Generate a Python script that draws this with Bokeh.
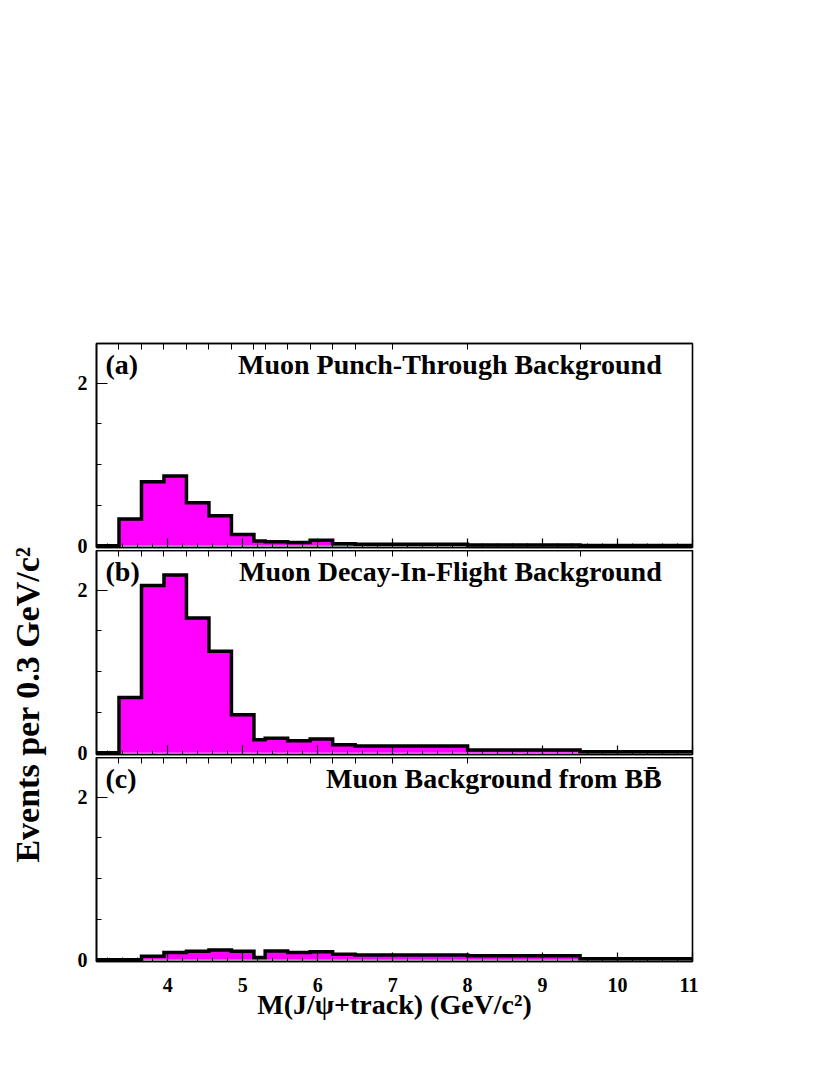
import numpy as np
from bokeh.plotting import figure
from bokeh.layouts import column, row
from bokeh.models import (Range1d, FixedTicker, SingleIntervalTicker, LinearAxis,
                          Label, CustomJSTickFormatter)
from bokeh.core.properties import value
from bokeh.embed import file_html
from bokeh.resources import INLINE

# ---------------- data ----------------
bin_edges = [3.05, 3.35, 3.65, 3.95, 4.25, 4.55, 4.85, 5.15, 5.30, 5.60,
             5.90, 6.20, 6.50, 7.00, 8.00, 9.50, 11.00]
punch_through = [0.0, 0.33, 0.79, 0.86, 0.53, 0.37, 0.14, 0.06, 0.05, 0.04,
                 0.07, 0.025, 0.02, 0.02, 0.01, 0.005]
decay_in_flight = [0.0, 0.68, 2.06, 2.19, 1.66, 1.25, 0.47, 0.16, 0.18, 0.15,
                   0.17, 0.10, 0.085, 0.085, 0.035, 0.015]
from_bbbar = [0.0, 0.0, 0.045, 0.09, 0.105, 0.12, 0.105, 0.03, 0.11, 0.09,
              0.10, 0.07, 0.06, 0.06, 0.05, 0.015]
panel_tags = ["(a)", "(b)", "(c)"]
panel_titles = ["Muon Punch-Through Background",
                "Muon Decay-In-Flight Background",
                "Muon Background from B\u0042\u0304"]
y_major = [0, 2]
y_minor = [0.5, 1.0, 1.5]
x_title = "M(J/\u03c8+track) (GeV/c\u00b2)"
y_title = "Events per 0.3 GeV/c\u00b2"

FONT = "Liberation Serif"
MAGENTA = "#ff00ff"
FRAME_W = 596
FRAME_H = 204
LEFT = 48
OVERLAP = 8


def make_panel(vals, tag, title, first=False, last=False):
    kw = {}
    if not first:
        kw["margin"] = (-OVERLAP, 0, 0, 0)
    p = figure(output_backend="svg", toolbar_location=None,
               frame_width=FRAME_W, frame_height=FRAME_H,
               x_range=Range1d(3.05, 11.0), y_range=Range1d(-0.02, 2.49),
               x_axis_location=None, y_axis_location=None,
               min_border_left=LEFT, min_border_right=6,
               min_border_top=343 if first else 0,
               min_border_bottom=62 if last else 11, **kw)
    p.background_fill_color = "white"
    p.border_fill_color = "white"
    p.border_fill_alpha = 1.0 if first else 0.0
    p.outline_line_color = "black"
    p.outline_line_width = 1.6
    p.grid.visible = False

    e = np.array(bin_edges)
    v = np.array(vals)
    xs = np.repeat(e, 2)[1:-1]
    ys = np.repeat(v, 2)
    px = np.concatenate([xs, [e[-1], e[0]]])
    py = np.concatenate([ys, [0.0, 0.0]])
    p.patch(px, py, fill_color=MAGENTA, line_color=None)
    p.line(xs, ys, line_color="black", line_width=3.5, line_join="miter")

    # left axis
    ya = LinearAxis(ticker=FixedTicker(ticks=y_major, minor_ticks=y_minor))
    ya.major_tick_in = 11
    ya.major_tick_out = 0
    ya.minor_tick_in = 5
    ya.minor_tick_out = 0
    ya.axis_line_color = "black"
    ya.axis_line_width = 1.6
    ya.major_tick_line_width = 1.2
    ya.minor_tick_line_width = 1.0
    ya.major_label_text_font = FONT
    ya.major_label_text_font_style = "bold"
    ya.major_label_text_font_size = "20px"
    ya.major_label_text_color = "black"
    ya.major_label_standoff = 9
    p.add_layout(ya, "left")

    # bottom axis
    xa = LinearAxis(ticker=SingleIntervalTicker(interval=1, num_minor_ticks=5))
    xa.major_tick_in = 9
    xa.major_tick_out = 0
    xa.minor_tick_in = 4
    xa.minor_tick_out = 0
    xa.axis_line_color = "black"
    xa.axis_line_width = 1.6
    xa.major_tick_line_width = 1.2
    xa.minor_tick_line_width = 1.0
    xa.major_label_text_font = FONT
    xa.major_label_text_font_style = "bold"
    xa.major_label_text_color = "black"
    if last:
        xa.major_label_text_font_size = "20px"
        xa.major_label_standoff = 16
        xa.axis_label = x_title
        xa.axis_label_text_font = FONT
        xa.axis_label_text_font_style = "bold"
        xa.axis_label_text_font_size = "28px"
        xa.axis_label_text_color = "black"
        xa.axis_label_standoff = -6
    else:
        xa.formatter = CustomJSTickFormatter(code="return ''")
        xa.major_label_standoff = 0
    p.add_layout(xa, "below")

    # top axis (ticks at bin edges)
    ta = LinearAxis(ticker=FixedTicker(ticks=bin_edges[1:-1], minor_ticks=[]))
    ta.major_tick_in = 6
    ta.major_tick_out = 0
    ta.minor_tick_in = 0
    ta.minor_tick_out = 0
    ta.axis_line_color = "black"
    ta.axis_line_width = 1.6
    ta.major_tick_line_width = 1.0
    ta.formatter = CustomJSTickFormatter(code="return ''")
    ta.major_label_standoff = 0
    p.add_layout(ta, "above")

    p.add_layout(Label(x=3.17, y=2.23, text=tag, text_font=FONT,
                       text_font_style="bold", text_font_size="28px",
                       text_color="black",
                       text_align="left", text_baseline="alphabetic"))
    p.add_layout(Label(x=10.59, y=2.23, text=title, text_font=FONT,
                       text_font_style="bold", text_font_size="28px",
                       text_color="black",
                       text_align="right", text_baseline="alphabetic"))
    return p


pa = make_panel(punch_through, panel_tags[0], panel_titles[0], first=True)
pb = make_panel(decay_in_flight, panel_tags[1], panel_titles[1])
pc = make_panel(from_bbbar, panel_tags[2], panel_titles[2], last=True)

LAB_H = 1030
lab = figure(output_backend="svg", toolbar_location=None,
             width=48, height=LAB_H, x_range=Range1d(0, 48),
             y_range=Range1d(0, LAB_H), min_border=0,
             x_axis_location=None, y_axis_location=None)
lab.outline_line_color = None
lab.grid.visible = False
lab.text(x=[27], y=[LAB_H - 704], text=[y_title], angle=np.pi / 2,
         text_font=value(FONT), text_font_style="bold",
         text_font_size="34px", text_align="center", text_baseline="middle",
         text_color="black")

layout = row(lab, column(pa, pb, pc, spacing=0), spacing=0)
open("out.html", "w").write(file_html(layout, INLINE))
